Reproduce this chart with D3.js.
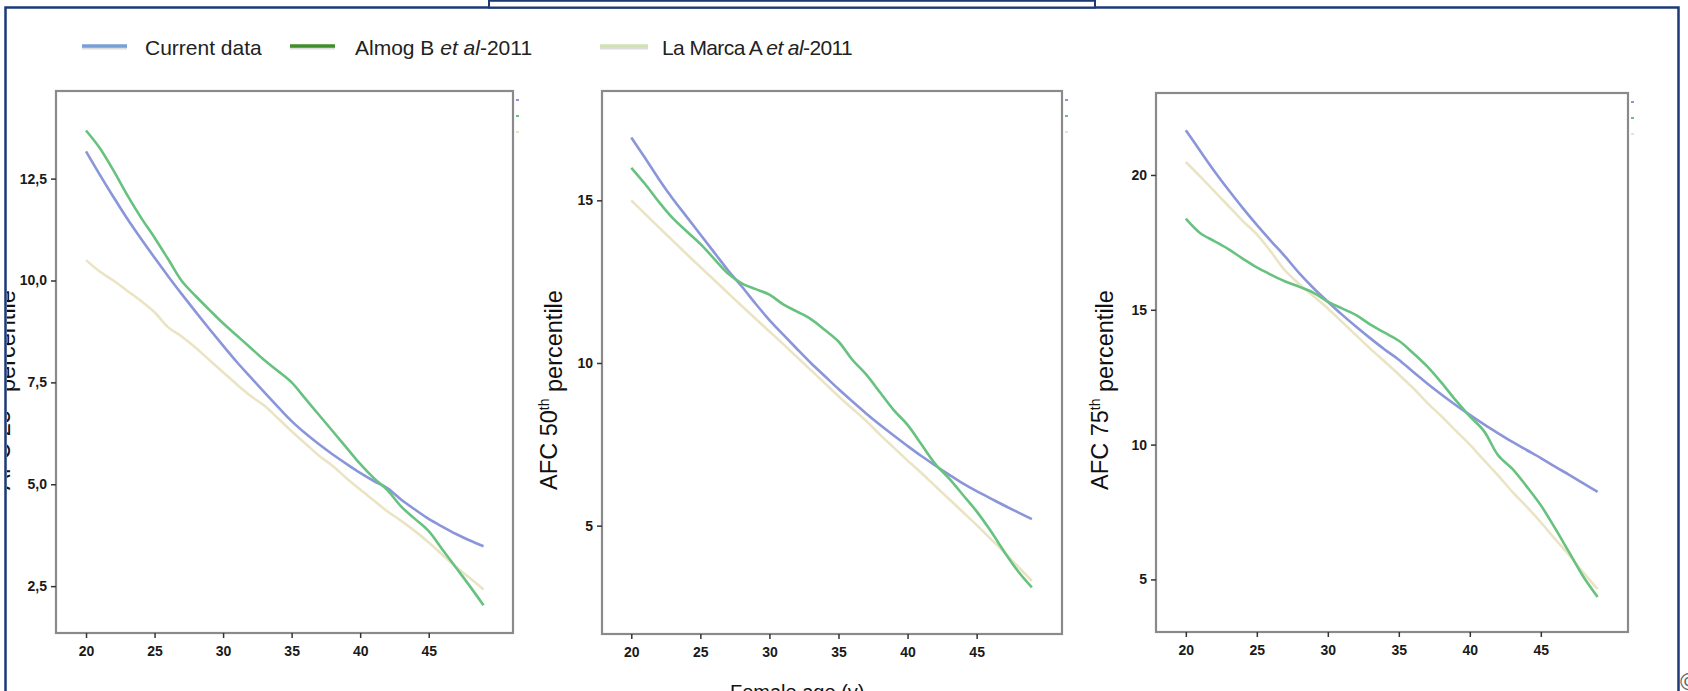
<!DOCTYPE html>
<html>
<head>
<meta charset="utf-8">
<script src="https://d3js.org/d3.v7.min.js"></script>
<style>
  body { margin: 0; background: #fff; }
  svg { display: block; font-family: "Liberation Sans", Arial, sans-serif; }
</style>
</head>
<body>
<div id="chart"></div>
<script>
  // ages on the x axis (years)
  var ages = [20,21,22,23,24,25,26,27,28,29,30,31,32,33,34,35,36,37,38,39,40,41,42,43,44,45,46,47,48,49];

  // AFC 25th percentile
  var p25Current = [13.17,12.6,12.05,11.52,11.03,10.56,10.1,9.66,9.23,8.81,8.4,8.0,7.63,7.26,6.9,6.55,6.25,5.98,5.73,5.5,5.28,5.08,4.9,4.62,4.38,4.15,3.96,3.78,3.62,3.48];
  var p25Almog   = [13.68,13.25,12.7,12.1,11.55,11.05,10.52,9.98,9.62,9.28,8.95,8.65,8.35,8.05,7.78,7.5,7.1,6.7,6.3,5.9,5.5,5.15,4.85,4.45,4.15,3.85,3.4,2.95,2.5,2.03];
  var p25LaMarca = [10.5,10.22,10.0,9.75,9.5,9.22,8.85,8.62,8.35,8.05,7.75,7.45,7.17,6.93,6.62,6.3,6.0,5.7,5.45,5.15,4.87,4.6,4.33,4.1,3.85,3.57,3.27,2.97,2.7,2.42];

  // AFC 50th percentile
  var p50Current = [16.93,16.3,15.65,15.05,14.5,13.95,13.4,12.85,12.35,11.82,11.32,10.87,10.43,10.0,9.6,9.2,8.82,8.45,8.1,7.77,7.45,7.14,6.85,6.57,6.3,6.06,5.84,5.62,5.41,5.2];
  var p50Almog   = [16.0,15.5,14.95,14.45,14.05,13.66,13.2,12.75,12.45,12.27,12.1,11.8,11.58,11.35,11.02,10.66,10.1,9.65,9.1,8.55,8.1,7.5,6.9,6.45,5.95,5.44,4.85,4.2,3.6,3.1];
  var p50LaMarca = [15.0,14.58,14.17,13.76,13.35,12.95,12.55,12.15,11.75,11.36,10.97,10.58,10.18,9.78,9.38,8.98,8.6,8.22,7.8,7.4,7.0,6.62,6.22,5.82,5.42,5.02,4.6,4.18,3.74,3.3];

  // AFC 75th percentile
  var p75Current = [21.66,20.9,20.15,19.45,18.78,18.15,17.55,16.97,16.35,15.8,15.3,14.82,14.37,13.94,13.53,13.15,12.7,12.27,11.86,11.47,11.1,10.75,10.42,10.1,9.8,9.5,9.18,8.88,8.56,8.25];
  var p75Almog   = [18.38,17.85,17.55,17.25,16.9,16.57,16.3,16.05,15.85,15.63,15.3,15.05,14.8,14.45,14.15,13.85,13.4,12.9,12.3,11.65,11.05,10.5,9.6,9.1,8.45,7.75,6.9,6.0,5.1,4.35];
  var p75LaMarca = [20.48,19.95,19.4,18.85,18.3,17.8,17.15,16.45,15.95,15.5,15.05,14.55,14.05,13.55,13.08,12.6,12.1,11.55,11.05,10.52,10.0,9.42,8.85,8.25,7.7,7.12,6.5,5.9,5.25,4.64];

  // tick labels
  var xTicks = [20,25,30,35,40,45];
  var p25Ticks = [2.5,5,7.5,10,12.5];
  var p50Ticks = [5,10,15];
  var p75Ticks = [5,10,15,20];

  var seriesNames = ["Current data", "Almog B ", "La Marca A "];
  var lineColors = ["#8b96da", "#68c27f", "#ebe4c4"];
  var legendColors = ["#77a0d8", "#3f8e2a", "#d2e2b6"];

  var W = 1688, H = 691;
  var navy = "#1d3a78";

  var svg = d3.select("#chart").append("svg")
      .attr("width", W)
      .attr("height", H);

  // comma decimal like the original
  var commaLocale = d3.formatLocale({decimal: ",", thousands: ".", grouping: [3], currency: ["", ""]});

  // panels (layout only)
  var panels = [
    {x0: 56, x1: 513, y0: 91, y1: 633, xd: [17.81, 51.15], yd: [1.35, 14.65],
     series: [p25Current, p25Almog, p25LaMarca], ticks: p25Ticks, fmt: commaLocale.format(".1f"),
     label: "25", labelX: 9.5},
    {x0: 602, x1: 1062, y0: 91, y1: 634, xd: [17.88, 51.18], yd: [1.67, 18.36],
     series: [p50Current, p50Almog, p50LaMarca], ticks: p50Ticks, fmt: d3.format("d"),
     label: "50", labelX: 557},
    {x0: 1156, x1: 1628, y0: 93, y1: 632, xd: [17.9, 51.14], yd: [3.05, 23.04],
     series: [p75Current, p75Almog, p75LaMarca], ticks: p75Ticks, fmt: d3.format("d"),
     label: "75", labelX: 1108}
  ];

  panels.forEach(function(p, i) {
    var x = d3.scaleLinear().domain(p.xd).range([p.x0, p.x1]);
    var y = d3.scaleLinear().domain(p.yd).range([p.y1, p.y0]);
    var g = svg.append("g");

    // lines
    var line = d3.line()
        .x(function(d, j) { return x(ages[j]); })
        .y(function(d) { return y(d); })
        .curve(d3.curveCatmullRom.alpha(0.5));

    // draw pale first so others sit on top
    [2, 0, 1].forEach(function(k) {
      g.append("path")
        .attr("d", line(p.series[k]))
        .attr("fill", "none")
        .attr("stroke", lineColors[k])
        .attr("stroke-width", 2.6)
        .attr("stroke-linejoin", "round");
    });

    // box
    g.append("rect")
      .attr("x", p.x0).attr("y", p.y0)
      .attr("width", p.x1 - p.x0).attr("height", p.y1 - p.y0)
      .attr("fill", "none")
      .attr("stroke", "#8a8a8a")
      .attr("stroke-width", 2.2);

    // axes
    var xAxis = g.append("g")
      .attr("transform", "translate(0," + p.y1 + ")")
      .call(d3.axisBottom(x).tickValues(xTicks).tickSize(5).tickPadding(8).tickFormat(d3.format("d")));
    var yAxis = g.append("g")
      .attr("transform", "translate(" + p.x0 + ",0)")
      .call(d3.axisLeft(y).tickValues(p.ticks).tickSize(5).tickPadding(4).tickFormat(p.fmt));
    [xAxis, yAxis].forEach(function(a) {
      a.select(".domain").remove();
      a.selectAll("line").attr("stroke", "#333").attr("stroke-width", 1.5);
      a.selectAll("text")
        .attr("fill", "#1a1a1a")
        .style("font-size", "14px")
        .style("font-weight", "bold");
    });

    // remnants of an old legend at the top right of each box
    lineColors.forEach(function(c, k) {
      g.append("rect")
        .attr("x", p.x1 + 3).attr("y", p.y0 + 8 + k * 16)
        .attr("width", 3).attr("height", 2)
        .attr("fill", c);
    });

    // y axis title
    var t = g.append("text")
      .attr("transform", "translate(" + p.labelX + ",390) rotate(-90)")
      .attr("text-anchor", "middle")
      .attr("fill", "#111")
      .style("font-size", "23.5px");
    t.append("tspan").text("AFC " + p.label);
    t.append("tspan").attr("dy", "-0.55em").style("font-size", "14px").text("th");
    t.append("tspan").attr("dy", "0.55em").text(" percentile");
  });

  // the picture was cropped: mask what lies left of the frame
  svg.append("rect")
    .attr("x", 0).attr("y", 0)
    .attr("width", 7).attr("height", H)
    .attr("fill", "#fff");

  // x axis title, cut at the bottom edge
  svg.append("text")
    .attr("x", 730).attr("y", 699)
    .attr("fill", "#111")
    .style("font-size", "20px")
    .text("Female age (y)");

  // legend
  var legendX = [[82, 127, 145], [290, 335, 355], [600, 648, 662]];
  seriesNames.forEach(function(name, k) {
    var lx = legendX[k];
    svg.append("line")
      .attr("x1", lx[0]).attr("x2", lx[1])
      .attr("y1", 48).attr("y2", 48)
      .attr("stroke", "#ddd").attr("stroke-width", 3);
    svg.append("line")
      .attr("x1", lx[0]).attr("x2", lx[1])
      .attr("y1", 46).attr("y2", 46)
      .attr("stroke", legendColors[k]).attr("stroke-width", 3.5);
    var t = svg.append("text")
      .attr("x", lx[2]).attr("y", 55)
      .attr("fill", "#222")
      .style("font-size", "21px")
      .style("letter-spacing", k === 2 ? "-0.6px" : "0px")
      .text(name);
    if (k > 0) {
      t.append("tspan").style("font-style", "italic").text("et al");
      t.append("tspan").text("-2011");
    }
  });

  // navy frame and the box above it
  svg.append("rect")
    .attr("x", 5.5).attr("y", 7.5)
    .attr("width", 1673).attr("height", 720)
    .attr("fill", "none")
    .attr("stroke", navy)
    .attr("stroke-width", 2.5);
  svg.append("rect")
    .attr("x", 489).attr("y", 0.8)
    .attr("width", 606).attr("height", 6.7)
    .attr("fill", "#fff")
    .attr("stroke", navy)
    .attr("stroke-width", 2);

  // cut-off glyph at the bottom right
  svg.append("text")
    .attr("x", 1680).attr("y", 690)
    .attr("fill", "#666")
    .style("font-size", "24px")
    .text("©");
</script>
</body>
</html>
